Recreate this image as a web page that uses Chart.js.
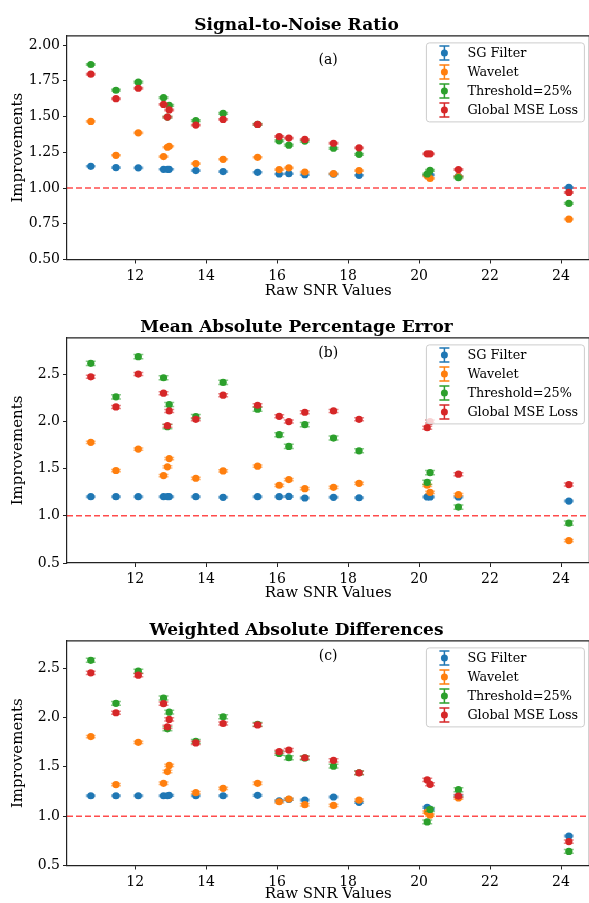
<!DOCTYPE html>
<html lang="en">
<head>
<meta charset="UTF-8">
<title>Improvements vs Raw SNR</title>
<script src="https://cdn.jsdelivr.net/npm/chart.js@4"></script>
<style>
    body {
        margin: 0;
        background: #fff;
        width: 589px;
        height: 903px;
        position: relative;
        overflow: hidden;
    }
    canvas {
        position: absolute;
        left: 0;
    }
</style>
</head>
<body>

<!-- canvases are 4px wider than the page: the right spine sits on the page edge -->
<canvas id="chartA" width="593" height="302" style="top:0px"></canvas>
<canvas id="chartB" width="593" height="303" style="top:302px"></canvas>
<canvas id="chartC" width="593" height="298" style="top:605px"></canvas>

<script>
    // Raw SNR of each test signal (x positions)
    const snr = [10.75, 11.46, 12.09, 12.80, 12.91, 12.96, 13.71, 14.48, 15.45, 16.06,
                 16.33, 16.78, 17.59, 18.31, 20.23, 20.31, 21.11, 24.22];

    const seriesNames = ['SG Filter', 'Wavelet', 'Threshold=25%', 'Global MSE Loss'];
    const seriesColors = ['#1f77b4', '#ff7f0e', '#2ca02c', '#d62728'];

    // (a) Signal-to-Noise Ratio improvements
    const sgA  = [1.152, 1.143, 1.141, 1.131, 1.131, 1.131, 1.122, 1.115, 1.110, 1.098, 1.100, 1.093, 1.097, 1.089, 1.089, 1.092, 1.082, 1.004];
    const wavA = [1.466, 1.229, 1.386, 1.220, 1.285, 1.292, 1.171, 1.201, 1.215, 1.129, 1.141, 1.112, 1.100, 1.122, 1.085, 1.067, 1.080, 0.782];
    const thrA = [1.864, 1.684, 1.740, 1.632, 1.496, 1.578, 1.471, 1.522, 1.445, 1.330, 1.300, 1.328, 1.278, 1.236, 1.098, 1.124, 1.072, 0.892];
    const gmsA = [1.796, 1.625, 1.698, 1.585, 1.496, 1.546, 1.440, 1.480, 1.445, 1.360, 1.349, 1.340, 1.313, 1.281, 1.239, 1.239, 1.129, 0.969];
    const errA = [0.004, 0.004, 0.006, 0.005];

    // (b) Mean Absolute Percentage Error improvements
    const sgB  = [1.202, 1.202, 1.202, 1.202, 1.202, 1.202, 1.202, 1.195, 1.202, 1.202, 1.205, 1.188, 1.195, 1.191, 1.199, 1.199, 1.199, 1.156];
    const wavB = [1.777, 1.479, 1.706, 1.425, 1.518, 1.606, 1.397, 1.475, 1.525, 1.323, 1.383, 1.287, 1.301, 1.344, 1.323, 1.248, 1.223, 0.737];
    const thrB = [2.614, 2.259, 2.684, 2.461, 1.943, 2.178, 2.050, 2.412, 2.128, 1.858, 1.734, 1.965, 1.823, 1.688, 1.354, 1.457, 1.092, 0.922];
    const gmsB = [2.471, 2.152, 2.500, 2.298, 1.954, 2.110, 2.021, 2.277, 2.170, 2.053, 1.997, 2.096, 2.110, 2.021, 1.933, 1.997, 1.440, 1.330];
    const errB = [0.008, 0.012, 0.022, 0.016];

    // (c) Weighted Absolute Differences improvements
    const sgC  = [1.207, 1.207, 1.207, 1.207, 1.207, 1.211, 1.207, 1.207, 1.211, 1.155, 1.170, 1.163, 1.194, 1.140, 1.089, 1.070, 1.204, 0.799];
    const wavC = [1.806, 1.320, 1.748, 1.333, 1.452, 1.514, 1.238, 1.282, 1.333, 1.146, 1.173, 1.116, 1.109, 1.163, 1.041, 1.010, 1.184, null];
    const thrC = [2.579, 2.143, 2.469, 2.197, 1.885, 2.054, 1.758, 2.007, 1.930, 1.636, 1.592, 1.590, 1.507, 1.440, 0.942, 1.068, 1.268, 0.643];
    const gmsC = [2.452, 2.048, 2.429, 2.140, 1.905, 1.980, 1.742, 1.939, 1.925, 1.653, 1.670, 1.592, 1.565, 1.439, 1.367, 1.323, 1.204, 0.742];
    const errC = [0.008, 0.012, 0.020, 0.016];

    // tick labels
    const xTicks = [12, 14, 16, 18, 20, 22, 24];
    const yTicksA = [0.50, 0.75, 1.00, 1.25, 1.50, 1.75, 2.00];
    const yTicksBC = [0.5, 1.0, 1.5, 2.0, 2.5];

    const serif = "'DejaVu Serif', 'Liberation Serif', serif";

    const panels = [
        { id: 'chartA', title: 'Signal-to-Noise Ratio', tag: '(a)', series: [sgA, wavA, thrA, gmsA], err: errA,
          yMin: 0.5, yMax: 2.064, yTicks: yTicksA, digits: 2, xAxisHeight: 42.5, xTitlePad: 2, tagOffset: 24 },
        { id: 'chartB', title: 'Mean Absolute Percentage Error', tag: '(b)', series: [sgB, wavB, thrB, gmsB], err: errB,
          yMin: 0.5, yMax: 2.883, yTicks: yTicksBC, digits: 1, xAxisHeight: 42, xTitlePad: 3, tagOffset: 15 },
        { id: 'chartC', title: 'Weighted Absolute Differences', tag: '(c)', series: [sgC, wavC, thrC, gmsC], err: errC,
          yMin: 0.5, yMax: 2.776, yTicks: yTicksBC, digits: 1, xAxisHeight: 37.5, xTitlePad: 0, tagOffset: 15 }
    ];

    // vertical error bars with caps, drawn just under each series' markers
    const errorBars = {
        id: 'errorBars',
        beforeDatasetDraw(chart, args) {
            const ds = chart.data.datasets[args.index];
            const { ctx, scales: { x, y } } = chart;
            ctx.save();
            ctx.strokeStyle = ds.backgroundColor;
            ctx.globalAlpha = 0.55;
            ctx.lineWidth = 1.5;
            ds.data.forEach(p => {
                if (p.y === null) return;
                const px = x.getPixelForValue(p.x);
                const y0 = y.getPixelForValue(p.y - ds.err);
                const y1 = y.getPixelForValue(p.y + ds.err);
                ctx.beginPath();
                ctx.moveTo(px, y0); ctx.lineTo(px, y1);
                ctx.moveTo(px - 5, y0); ctx.lineTo(px + 5, y0);
                ctx.moveTo(px - 5, y1); ctx.lineTo(px + 5, y1);
                ctx.stroke();
            });
            ctx.restore();
        }
    };

    // red dashed reference at 1.0, top/right spines, panel tag and legend
    const decorations = {
        id: 'decorations',
        beforeDatasetsDraw(chart) {
            const { ctx, chartArea: a, scales: { y } } = chart;
            const py = y.getPixelForValue(1.0);
            ctx.save();
            ctx.strokeStyle = 'rgba(255, 0, 0, 0.7)';
            ctx.lineWidth = 1.5;
            ctx.setLineDash([6, 3]);
            ctx.beginPath();
            ctx.moveTo(a.left, py);
            ctx.lineTo(a.right, py);
            ctx.stroke();
            ctx.restore();
        },
        afterDraw(chart, args, opts) {
            const { ctx, chartArea: a } = chart;
            ctx.save();
            // spines
            ctx.strokeStyle = '#222';
            ctx.lineWidth = 1.2;
            ctx.beginPath();
            ctx.moveTo(a.left, a.top); ctx.lineTo(a.right, a.top); ctx.lineTo(a.right, a.bottom);
            ctx.stroke();

            // panel tag
            ctx.fillStyle = '#000';
            ctx.font = '14px ' + serif;
            ctx.textAlign = 'center';
            ctx.textBaseline = 'middle';
            ctx.fillText(opts.tag, (a.left + a.right) / 2, a.top + opts.tagOffset);

            // legend box
            const w = 158, h = 79;
            const bx = a.right - 5 - w, by = a.top + 7;
            ctx.beginPath();
            ctx.roundRect(bx, by, w, h, 3);
            ctx.fillStyle = 'rgba(255, 255, 255, 0.8)';
            ctx.fill();
            ctx.strokeStyle = '#cccccc';
            ctx.lineWidth = 1;
            ctx.stroke();

            ctx.textAlign = 'left';
            ctx.font = '12.8px ' + serif;
            chart.data.datasets.forEach((ds, i) => {
                const cy = by + 10 + i * 19;
                const sx = bx + 18;
                ctx.strokeStyle = ds.backgroundColor;
                ctx.lineWidth = 1.5;
                ctx.beginPath();
                ctx.moveTo(sx, cy - 7); ctx.lineTo(sx, cy + 7);
                ctx.moveTo(sx - 5, cy - 7); ctx.lineTo(sx + 5, cy - 7);
                ctx.moveTo(sx - 5, cy + 7); ctx.lineTo(sx + 5, cy + 7);
                ctx.stroke();
                ctx.beginPath();
                ctx.arc(sx, cy, 3.5, 0, Math.PI * 2);
                ctx.fillStyle = ds.backgroundColor;
                ctx.fill();
                ctx.fillStyle = '#000';
                ctx.fillText(ds.label, bx + 41, cy + 1);
            });
            ctx.restore();
        }
    };

    function makePanel(p) {
        const datasets = p.series.map((vals, i) => ({
            label: seriesNames[i],
            data: snr.map((x, j) => ({ x: x, y: vals[j] })),
            err: p.err[i],
            backgroundColor: seriesColors[i],
            borderWidth: 0,
            pointRadius: 3.6,
            pointHoverRadius: 3.6,
            order: 3 - i
        }));

        new Chart(document.getElementById(p.id), {
            type: 'scatter',
            data: { datasets: datasets },
            plugins: [errorBars, decorations],
            options: {
                responsive: false,
                animation: false,
                layout: { padding: 0 },
                scales: {
                    x: {
                        type: 'linear',
                        min: 10.08,
                        max: 24.80,
                        afterBuildTicks: s => { s.ticks = xTicks.map(v => ({ value: v })); },
                        afterFit: s => { s.height = p.xAxisHeight; },
                        ticks: { color: '#000', font: { family: serif, size: 14 }, padding: 4,
                                 autoSkip: false, maxRotation: 0, callback: v => String(v) },
                        grid: { drawOnChartArea: false, drawTicks: true, tickLength: 4, color: '#222' },
                        border: { display: true, color: '#222', width: 1.2 },
                        title: { display: true, text: 'Raw SNR Values', color: '#000',
                                 font: { family: serif, size: 15 }, padding: { top: 0, bottom: p.xTitlePad } }
                    },
                    y: {
                        type: 'linear',
                        min: p.yMin,
                        max: p.yMax,
                        afterBuildTicks: s => { s.ticks = p.yTicks.map(v => ({ value: v })); },
                        afterFit: s => { s.width = 67; },
                        ticks: { color: '#000', font: { family: serif, size: 14 }, padding: 3,
                                 autoSkip: false, callback: v => v.toFixed(p.digits) },
                        grid: { drawOnChartArea: false, drawTicks: true, tickLength: 4, color: '#222' },
                        border: { display: true, color: '#222', width: 1.2 },
                        title: { display: true, text: 'Improvements', color: '#000',
                                 font: { family: serif, size: 15 }, padding: { top: 9, bottom: 0 } }
                    }
                },
                plugins: {
                    legend: { display: false },
                    tooltip: { enabled: false },
                    title: {
                        display: true,
                        text: p.title,
                        color: '#000',
                        font: { family: serif, size: 17, weight: 'bold' },
                        padding: { top: 15, bottom: 0.5 }
                    },
                    decorations: { tag: p.tag, tagOffset: p.tagOffset }
                }
            }
        });
    }

    panels.forEach(makePanel);
</script>

</body>
</html>
